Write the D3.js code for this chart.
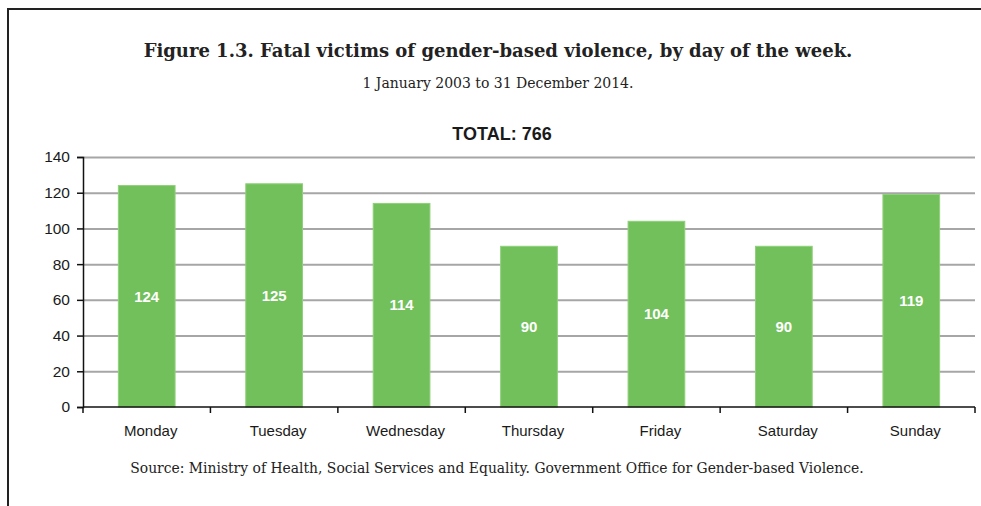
<!DOCTYPE html>
<meta charset="utf-8">
<style>
  body { margin: 0; background: #fff; }
  svg text { font-family: "Liberation Sans", Arial, sans-serif; }
  .serif { font-family: "DejaVu Serif", "Liberation Serif", serif !important; }
  .grid line { stroke: #a6a6a6; stroke-width: 2; }
  .grid .domain { display: none; }
</style>
<svg width="981" height="506"></svg>
<script src="https://cdn.jsdelivr.net/npm/d3@7"></script>
<script>
// data
var days = ["Monday", "Tuesday", "Wednesday", "Thursday", "Friday", "Saturday", "Sunday"];
var victims = [124, 125, 114, 90, 104, 90, 119];
var yTicks = [0, 20, 40, 60, 80, 100, 120, 140];

var svg = d3.select("svg");
var margin = {top: 157, right: 6, bottom: 99, left: 83};
var width = +svg.attr("width") - margin.left - margin.right;
var height = +svg.attr("height") - margin.top - margin.bottom;

// frame
svg.append("path")
    .attr("d", "M8,506V9H981")
    .attr("fill", "none")
    .attr("stroke", "#222")
    .attr("stroke-width", 2);

// titles
svg.append("text").attr("class", "serif")
    .attr("x", 498).attr("y", 57)
    .attr("text-anchor", "middle")
    .attr("font-size", 18).attr("font-weight", "bold").attr("fill", "#222")
    .text("Figure 1.3. Fatal victims of gender-based violence, by day of the week.");
svg.append("text").attr("class", "serif")
    .attr("x", 498).attr("y", 88)
    .attr("text-anchor", "middle")
    .attr("font-size", 14).attr("fill", "#222")
    .text("1 January 2003 to 31 December 2014.");
svg.append("text")
    .attr("x", 502).attr("y", 140)
    .attr("text-anchor", "middle")
    .attr("font-size", 18).attr("font-weight", "bold").attr("fill", "#1a1a1a")
    .text("TOTAL: 766");
svg.append("text").attr("class", "serif")
    .attr("x", 497).attr("y", 473)
    .attr("text-anchor", "middle")
    .attr("font-size", 13.9).attr("fill", "#222")
    .text("Source: Ministry of Health, Social Services and Equality. Government Office for Gender-based Violence.");

var g = svg.append("g").attr("transform", "translate(" + margin.left + "," + margin.top + ")");

var x = d3.scaleBand().domain(days).range([0, width]);          // category slots
var xb = d3.scaleBand().domain(days).range([0, width])
    .paddingInner(0.555).paddingOuter(0.2775);                   // bars
var y = d3.scaleLinear().domain([0, 140]).range([height, 0]);

// gridlines
g.append("g").attr("class", "grid")
    .call(d3.axisLeft(y).tickValues(yTicks).tickSize(-width).tickFormat(""))
    .selectAll("line").filter(function(d) { return d === 0; }).remove();

// bars
var data = days.map(function(d, i) { return {day: d, value: victims[i]}; });
g.selectAll(".bar").data(data).enter().append("rect")
    .attr("class", "bar")
    .attr("x", function(d) { return xb(d.day); })
    .attr("y", function(d) { return y(d.value); })
    .attr("width", xb.bandwidth())
    .attr("height", function(d) { return height - y(d.value); })
    .attr("fill", "#72c05b")
    .attr("stroke", "#8fd07a")
    .attr("stroke-width", 1);

// value labels
g.selectAll(".lbl").data(data).enter().append("text")
    .attr("x", function(d) { return xb(d.day) + xb.bandwidth() / 2; })
    .attr("y", function(d) { return (y(d.value) + height) / 2; })
    .attr("dy", "0.35em")
    .attr("text-anchor", "middle")
    .attr("font-size", 15).attr("font-weight", "bold").attr("fill", "#fff")
    .text(function(d) { return d.value; });

// y axis
var yAxis = g.append("g")
    .call(d3.axisLeft(y).tickValues(yTicks).tickSize(6).tickPadding(7));
yAxis.select(".domain").attr("stroke", "#111").attr("stroke-width", 1.5);
yAxis.selectAll(".tick line").attr("stroke", "#111").attr("stroke-width", 1.5);
yAxis.selectAll("text").attr("font-size", 15.5).attr("fill", "#1a1a1a")
    .style("font-family", "'Liberation Sans', Arial, sans-serif");

// x axis
var xAxis = g.append("g").attr("transform", "translate(0," + height + ")");
xAxis.append("line")
    .attr("x1", 0).attr("x2", width)
    .attr("stroke", "#111").attr("stroke-width", 1.5);
xAxis.selectAll(".xt").data(days.concat(["end"])).enter().append("line")
    .attr("x1", function(d) { return d === "end" ? width : x(d); })
    .attr("x2", function(d) { return d === "end" ? width : x(d); })
    .attr("y1", 0).attr("y2", 6)
    .attr("stroke", "#111").attr("stroke-width", 1.5);
xAxis.selectAll(".xl").data(days).enter().append("text")
    .attr("x", function(d) { return x(d) + x.bandwidth() / 2 + 4; })
    .attr("y", 29)
    .attr("text-anchor", "middle")
    .attr("font-size", 15).attr("fill", "#1a1a1a")
    .text(function(d) { return d; });
</script>
